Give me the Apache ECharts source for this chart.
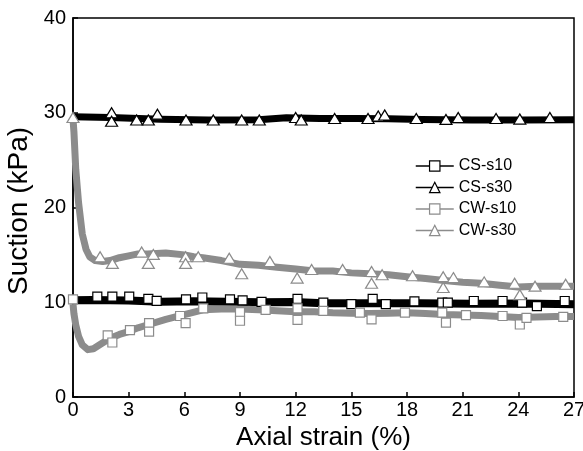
<!DOCTYPE html>
<html>
<head>
<meta charset="utf-8">
<script src="https://cdn.jsdelivr.net/npm/echarts@6/dist/echarts.min.js"></script>
<style>
html,body{margin:0;padding:0;background:#fff;}
#chart{width:583px;height:451px;}
</style>
</head>
<body>
<div id="chart"></div>
<script>
// ---- Data ----
var seriesNames = ['CS-s10', 'CS-s30', 'CW-s10', 'CW-s30'];
var xTicks = [0, 3, 6, 9, 12, 15, 18, 21, 24, 27];
var yTicks = [0, 10, 20, 30, 40];

// continuous measured curves (band centres)
var csS10Curve = [[0,10.2],[1,10.24],[2,10.2],[3,10.18],[4.7,10.06],[6.5,10.1],[8.3,10.06],[10.1,10.01],[11.9,10.03],[13.5,9.89],[15.1,9.89],[18.7,9.89],[21.5,9.83],[24.2,9.88],[27,9.8]];
var csS30Curve = [[0,29.58],[2,29.5],[4.7,29.32],[7.3,29.23],[10,29.27],[11.5,29.48],[13.3,29.4],[15.2,29.4],[17,29.36],[18.8,29.29],[21.5,29.23],[24.2,29.23],[27,29.27]];
var cwS10Curve = [[0,9.8],[0.05,8.8],[0.15,7.6],[0.3,6.4],[0.5,5.5],[0.8,5.0],[1.1,5.1],[1.5,5.6],[2,6.2],[2.5,6.6],[3,6.9],[3.5,7.3],[4,7.6],[5,8.2],[6,8.7],[7,9.2],[8,9.3],[9,9.3],[10,9.2],[11,9.1],[12,9.0],[13,9.0],[14,8.9],[15,8.85],[16,8.8],[17,8.85],[18,8.9],[19,8.8],[20,8.7],[21,8.65],[22,8.6],[23,8.5],[24,8.4],[25,8.45],[26,8.5],[27,8.5]];
var cwS30Curve = [[0,29.3],[0.05,28],[0.15,24],[0.3,20.5],[0.5,17.2],[0.7,15.6],[0.9,14.8],[1.2,14.4],[1.6,14.3],[2,14.4],[2.5,14.7],[3,14.9],[3.5,15.1],[4,15.1],[5,15.2],[6,15.0],[6.5,14.8],[7,14.7],[8,14.4],[9,14.0],[10,13.9],[11,13.7],[12,13.5],[13,13.3],[14,13.3],[15,13.1],[16,13.0],[17,12.9],[18,12.7],[19,12.5],[20,12.3],[21,12.1],[22,12.0],[23,11.8],[24,11.6],[25,11.7],[26,11.7],[27,11.7]];

// plotted markers
var csS10Marks = [[1.31,10.6],[2.12,10.6],[3.03,10.6],[4.06,10.35],[4.51,10.15],[6.09,10.3],[6.97,10.5],[8.46,10.3],[9.14,10.2],[10.16,10.05],[12.1,10.35],[13.49,9.95],[15.0,9.8],[16.15,10.35],[16.86,9.8],[18.4,10.1],[19.9,9.95],[20.2,9.95],[21.6,10.13],[23.15,10.13],[24.2,9.95],[25.0,9.6],[26.5,10.13]];
var csS30Marks = [[2.08,30.0],[2.08,29.1],[3.43,29.24],[4.06,29.24],[4.55,29.85],[6.09,29.24],[7.56,29.24],[9.09,29.24],[10.04,29.24],[12.0,29.5],[12.3,29.24],[14.1,29.4],[15.9,29.4],[16.45,29.66],[16.8,29.76],[18.5,29.4],[20.1,29.3],[20.76,29.5],[22.8,29.4],[24.08,29.33],[25.7,29.5]];
var cwS10Marks = [[0,10.3],[1.87,6.5],[2.12,5.75],[3.07,7.05],[4.1,7.8],[4.1,6.9],[5.77,8.55],[6.07,7.8],[7.02,9.35],[9.0,8.95],[9.0,8.05],[10.38,9.2],[12.1,9.35],[12.1,8.15],[13.49,9.1],[15.46,8.9],[16.09,8.2],[17.89,8.9],[19.9,8.9],[20.1,7.85],[21.18,8.65],[23.15,8.55],[24.08,7.65],[24.44,8.35],[26.42,8.45]];
var cwS30Marks = [[0,29.5],[1.46,14.8],[2.12,14.1],[3.7,15.3],[4.06,14.1],[4.33,15.05],[6.07,14.8],[6.07,14.1],[6.75,14.8],[8.42,14.65],[9.09,13.0],[10.61,14.3],[12.08,12.55],[12.86,13.45],[14.53,13.45],[16.09,13.25],[16.09,12.0],[16.66,12.9],[18.3,12.8],[19.95,12.7],[19.95,11.55],[20.5,12.6],[22.16,12.15],[23.8,12.0],[24.08,10.8],[24.9,11.7],[26.55,11.9]];

// ---- Chart ----
var FONT = 'Arial, "Liberation Sans", sans-serif';
var BLACK = '#000000';
var GRAY = '#8c8c8c';

function band(name, data, color, width, symbol) {
  return {
    name: name, type: 'line', data: data,
    symbol: symbol, symbolSize: 10, showSymbol: false,
    lineStyle: {color: color, width: width, join: 'round', cap: 'butt'},
    itemStyle: {color: '#fff', borderColor: color, borderWidth: 1.2},
    emphasis: {disabled: true}, silent: true, z: 2
  };
}
function marks(name, data, color, symbol, size) {
  return {
    name: name + ' markers', type: 'scatter', data: data,
    symbol: symbol, symbolSize: size,
    itemStyle: {color: '#fff', borderColor: color, borderWidth: 1.2, opacity: 1},
    emphasis: {disabled: true}, silent: true, z: 5
  };
}

var chart = echarts.init(document.getElementById('chart'), null, {renderer: 'canvas'});
chart.setOption({
  animation: false,
  backgroundColor: '#fff',
  textStyle: {fontFamily: FONT},
  grid: {left: 73, right: 9, top: 18, bottom: 54, containLabel: false, outerBoundsMode: 'none',
         show: true, borderColor: BLACK, borderWidth: 1.5, backgroundColor: 'transparent'},
  legend: {
    data: seriesNames,
    orient: 'vertical', left: 410, top: 153,
    itemWidth: 38, itemHeight: 13, itemGap: 5.5,
    textStyle: {color: BLACK, fontSize: 16, fontFamily: FONT},
    lineStyle: {width: 1.5},
    itemStyle: {borderWidth: 1.2},
    selectedMode: false
  },
  xAxis: {
    type: 'value', min: xTicks[0], max: xTicks[xTicks.length - 1], interval: 3,
    name: 'Axial strain (%)', nameLocation: 'middle', nameGap: 26,
    nameTextStyle: {color: BLACK, fontSize: 26, fontFamily: FONT},
    axisLine: {show: true, lineStyle: {color: BLACK, width: 1.5}},
    axisTick: {show: true, inside: true, length: 5, lineStyle: {color: BLACK, width: 1.5}},
    axisLabel: {color: BLACK, fontSize: 20, margin: 3, fontFamily: FONT, showMaxLabel: true, showMinLabel: true},
    splitLine: {show: false}
  },
  yAxis: {
    type: 'value', min: yTicks[0], max: yTicks[yTicks.length - 1], interval: 10,
    name: 'Suction (kPa)', nameLocation: 'middle', nameGap: 37,
    nameTextStyle: {color: BLACK, fontSize: 28, fontFamily: FONT, padding: [0, 7, 0, 0]},
    axisLine: {show: true, lineStyle: {color: BLACK, width: 1.5}},
    axisTick: {show: true, inside: true, length: 5, lineStyle: {color: BLACK, width: 1.5}},
    axisLabel: {color: BLACK, fontSize: 20, margin: 7, fontFamily: FONT},
    splitLine: {show: false}
  },
  series: [
    band('CS-s10', csS10Curve, BLACK, 8, 'rect'),
    band('CS-s30', csS30Curve, BLACK, 7, 'triangle'),
    band('CW-s10', cwS10Curve, GRAY, 7, 'rect'),
    band('CW-s30', cwS30Curve, GRAY, 7, 'triangle'),
    marks('CS-s10', csS10Marks, BLACK, 'rect', 9),
    marks('CS-s30', csS30Marks, BLACK, 'triangle', [12, 10]),
    marks('CW-s10', cwS10Marks, GRAY, 'rect', 9),
    marks('CW-s30', cwS30Marks, GRAY, 'triangle', [12, 10])
  ]
});
</script>
</body>
</html>
